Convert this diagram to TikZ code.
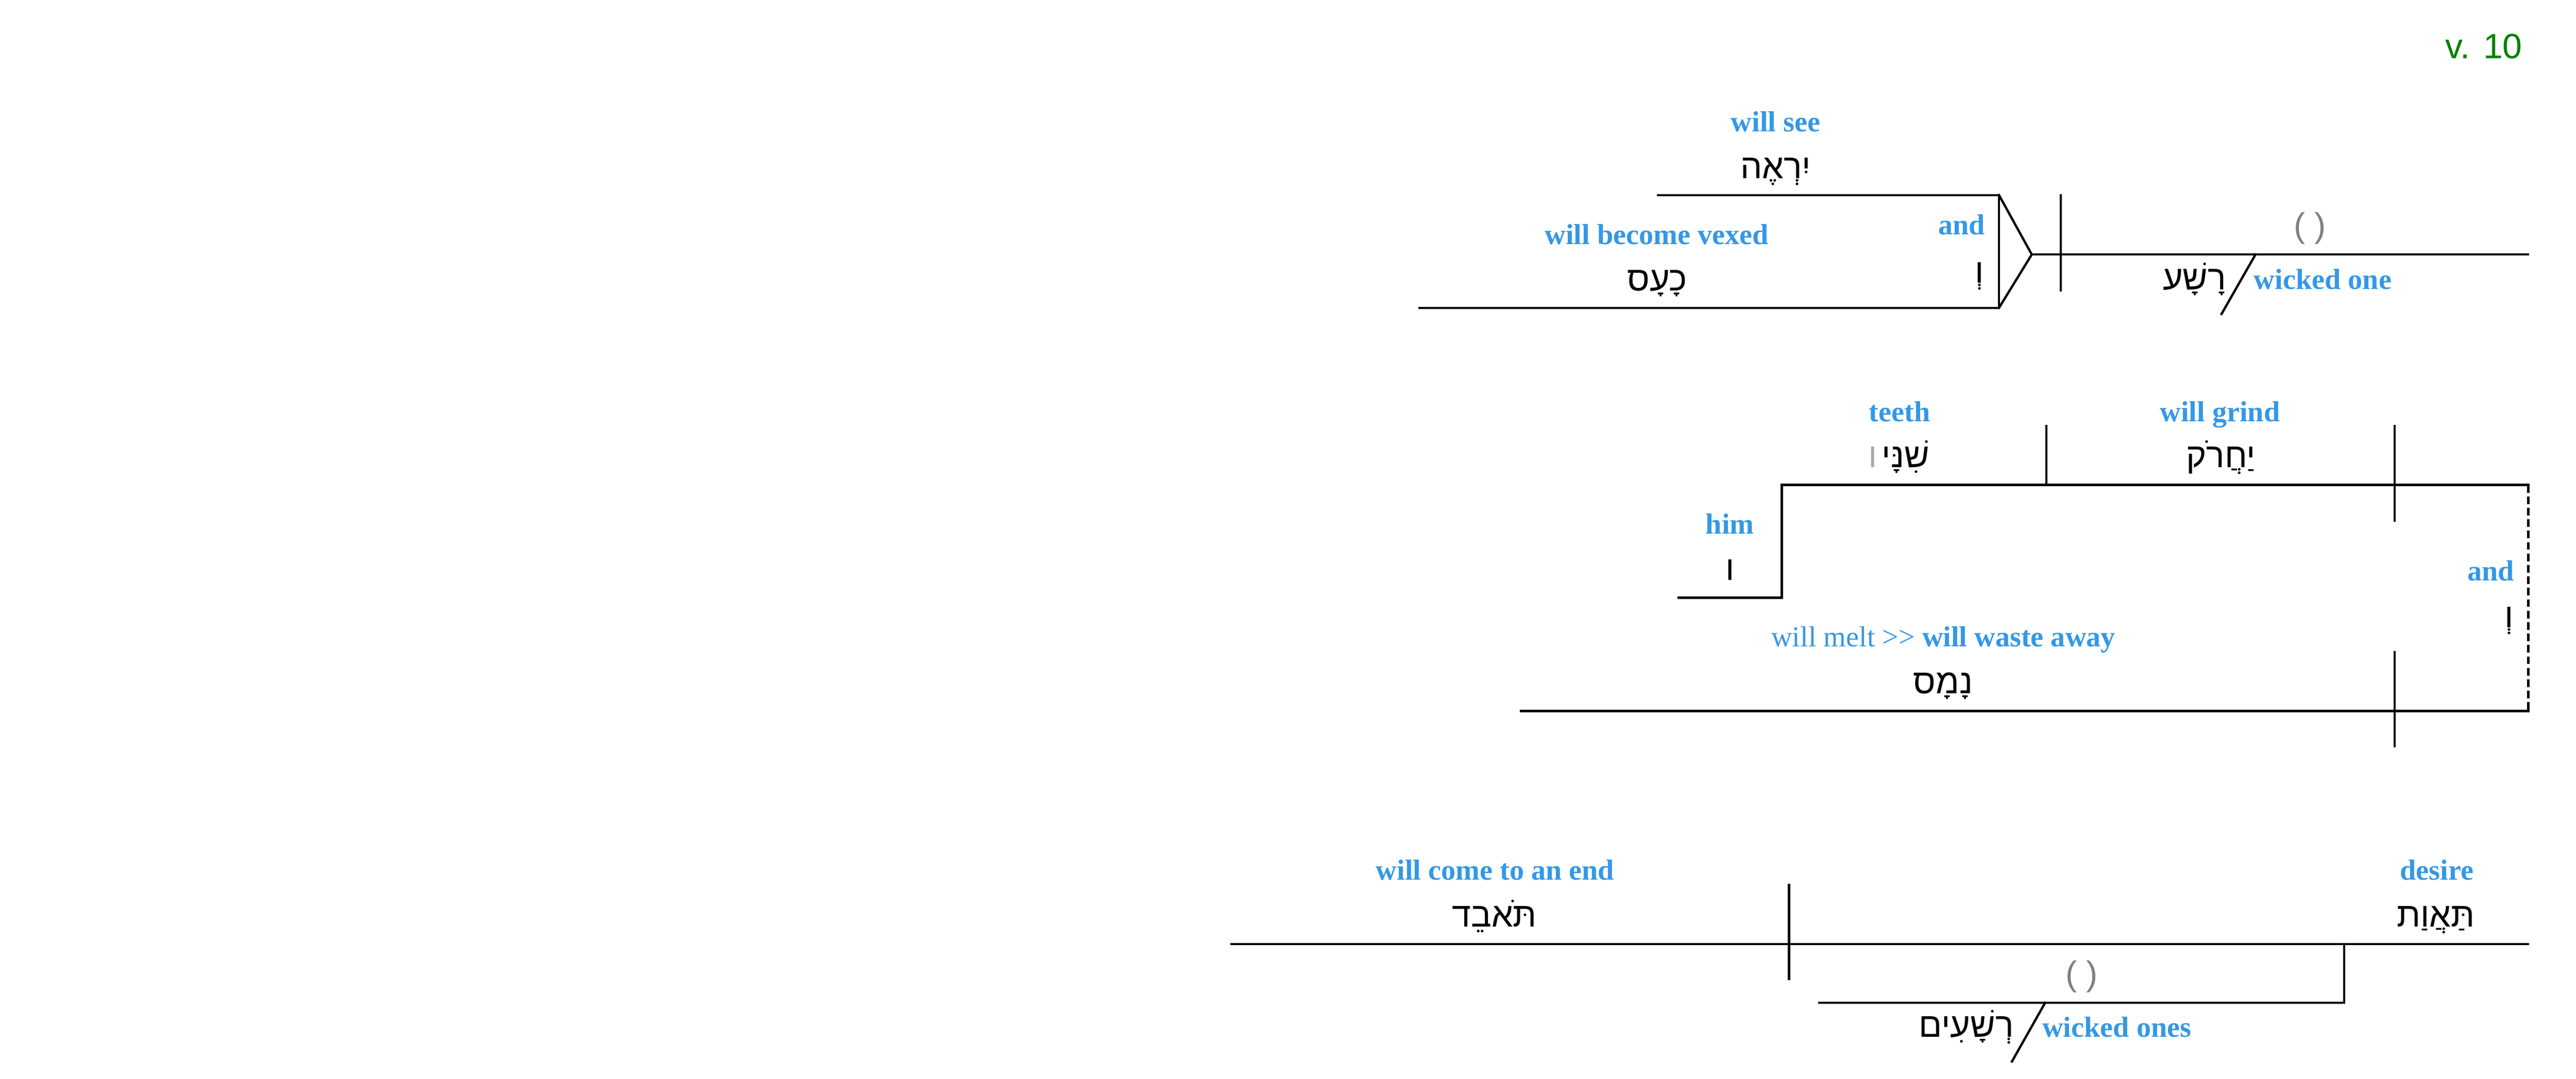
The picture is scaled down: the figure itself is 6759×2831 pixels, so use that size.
\documentclass[tikz,border=0pt]{standalone}
\usepackage{fontspec}
\setmainfont{Liberation Serif}
\newfontfamily\hebfont[Script=Hebrew]{Liberation Sans}
\newfontfamily\lsans{Liberation Sans}
\TeXXeTstate=1
\definecolor{lblue}{RGB}{52,152,230}
\definecolor{vgreen}{RGB}{0,128,0}
\definecolor{pgray}{RGB}{128,128,128}
\definecolor{lgray}{RGB}{170,170,170}
\begin{document}
\begin{tikzpicture}[x=0.1pt,y=-0.1pt,
  gl/.style={inner sep=0pt,anchor=base,text=lblue,font=\fontsize{7.6pt}{8pt}\selectfont\bfseries},
  glr/.style={inner sep=0pt,anchor=base,text=lblue,font=\fontsize{7.6pt}{8pt}\selectfont},
  hb/.style={inner sep=0pt,anchor=base,font=\fontsize{9pt}{10pt}\selectfont\hebfont},
  par/.style={inner sep=0pt,anchor=base,text=pgray,font=\fontsize{9pt}{10pt}\selectfont\lsans},
  ln/.style={line width=0.6pt,line cap=rect},
  dl/.style={line width=0.6pt,dash pattern=on 2pt off 1pt}]
\useasboundingbox (0,0) rectangle (6759,2831);

% verse number
\node[inner sep=0pt,anchor=base east,text=vgreen,font=\fontsize{9.2pt}{10pt}\selectfont\lsans] (vn) at (6620,153) {v. 10};

% ---------- top clause ----------
\coordinate (a1) at (4350,512);
\coordinate (a2) at (5245,512);
\coordinate (b1) at (3724,808);
\coordinate (b2) at (5245,808);
\coordinate (apx) at (5331,668);
\coordinate (mEnd) at (6633,668);
\coordinate (dTop) at (5407,512);
\coordinate (dBot) at (5407,762);
\coordinate (s1) at (5918,668);
\coordinate (s2) at (5829,824);

\draw[ln] (a1) -- (a2) -- (b2) -- (b1);
\draw[ln] (a2) -- (apx) -- (b2);
\draw[ln] (apx) -- (mEnd);
\draw[ln] (dTop) -- (dBot);
\draw[ln] (s1) -- (s2);

\node[gl] (e1) at (4659,345) {will see};
\node[hb] (h1) at (4659,469) {\beginR יִרְאֶה\endR};
\node[gl] (e2) at (4347,641) {will become vexed};
\node[hb] (h2) at (4348,763) {\beginR כָעָס\endR};
\node[gl,anchor=base east] (e3) at (5210,616) {and};
\node[hb,anchor=base east] (h3) at (5208,743) {\beginR וְ\endR};
\node[par] (p1) at (6061,622) {( )};
\node[hb,anchor=base east] (h4) at (5843,761) {\beginR רָשָׁע\endR};
\node[gl,anchor=base west] (e4) at (5912,759) {wicked one};

% ---------- middle clause ----------
\coordinate (u1) at (4675,1273);
\coordinate (u2) at (6634,1273);
\coordinate (st1) at (4404,1569);
\coordinate (st2) at (4675,1569);
\coordinate (v1a) at (5369,1118);
\coordinate (v1b) at (5369,1273);
\coordinate (v2a) at (6283,1118);
\coordinate (v2b) at (6283,1366);
\coordinate (w1) at (3991,1866);
\coordinate (w2) at (6634,1866);
\coordinate (v3a) at (6283,1711);
\coordinate (v3b) at (6283,1959);

\draw[ln] (st1) -- (st2) -- (u1) -- (u2);
\draw[ln] (v1a) -- (v1b);
\draw[ln] (v2a) -- (v2b);
\draw[ln] (w1) -- (w2);
\draw[ln] (v3a) -- (v3b);
\draw[dl] (u2) -- (w2);

\node[gl] (e5) at (4984,1106) {teeth};
\node[hb,anchor=base east] (h5) at (5064,1227) {\beginR שִׁנָּי\endR};
\node[hb,text=lgray] (h5b) at (4914,1227) {\beginR ו\endR};
\node[gl] (e6) at (5825,1106) {will grind};
\node[hb] (h6) at (5827,1227) {\beginR יַחֲרֹק\endR};
\node[gl] (e7) at (4539,1401) {him};
\node[hb] (h7) at (4539,1523) {\beginR ו\endR};
\node[gl,anchor=base east] (e8) at (6599,1524) {and};
\node[hb,anchor=base east] (h8) at (6597,1647) {\beginR וְ\endR};
\node[glr] (e9) at (5099,1697) {will melt >{}> \textbf{will waste away}};
\node[hb] (h9) at (5098,1820) {\beginR נָמָס\endR};

% ---------- bottom clause ----------
\coordinate (m1) at (3231,2478);
\coordinate (m2) at (6633,2478);
\coordinate (dv1) at (4694,2323);
\coordinate (dv2) at (4694,2570);
\coordinate (k1) at (6151,2478);
\coordinate (k2) at (6151,2632);
\coordinate (k3) at (4773,2632);
\coordinate (t1) at (5366,2632);
\coordinate (t2) at (5279,2786);

\draw[ln] (m1) -- (m2);
\draw[ln] (dv1) -- (dv2);
\draw[ln] (k1) -- (k2) -- (k3);
\draw[ln] (t1) -- (t2);

\node[gl] (e10) at (3923,2310) {will come to an end};
\node[hb] (h10) at (3921,2433) {\beginR תֹּאבֵד\endR};
\node[gl] (e11) at (6394,2310) {desire};
\node[hb] (h11) at (6391,2433) {\beginR תַּאֲוַת\endR};
\node[par] (p2) at (5462,2586) {( )};
\node[hb,anchor=base east] (h12) at (5286,2722) {\beginR רְשָׁעִים\endR};
\node[gl,anchor=base west] (e12) at (5357,2722) {wicked ones};
\end{tikzpicture}
\end{document}
